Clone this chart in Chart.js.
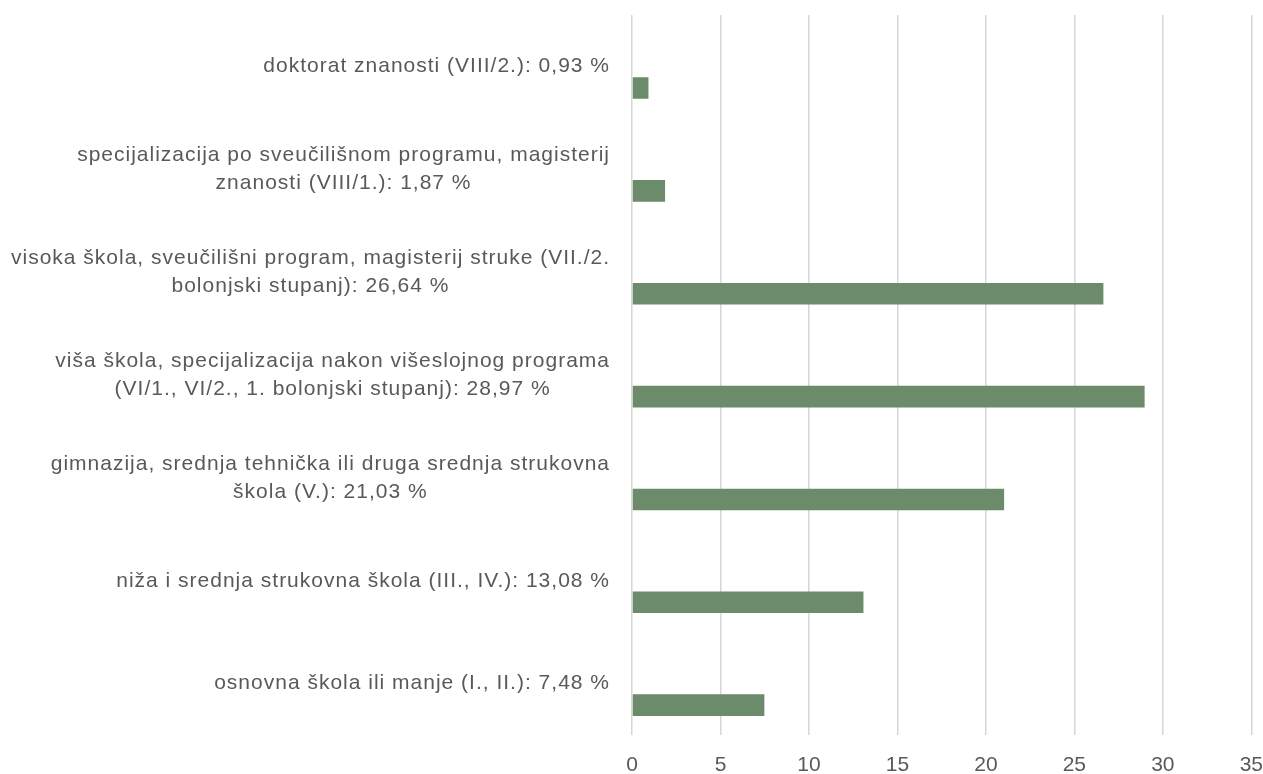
<!DOCTYPE html>
<html>
<head>
<meta charset="utf-8">
<script src="https://cdn.jsdelivr.net/npm/chart.js@4/dist/chart.umd.min.js"></script>
<style>
  html, body { margin: 0; padding: 0; background: #ffffff; }
  #wrap { width: 1263px; height: 774px; position: relative; }
</style>
</head>
<body>
<div id="wrap"><canvas id="c"></canvas></div>
<script>
// ---- data ----
const categories = [
  ["doktorat znanosti (VIII/2.): 0,93 %"],
  ["specijalizacija po sveučilišnom programu, magisterij", "znanosti (VIII/1.): 1,87 %"],
  ["visoka škola, sveučilišni program, magisterij struke (VII./2.", "bolonjski stupanj): 26,64 %"],
  ["viša škola, specijalizacija nakon višeslojnog programa", "(VI/1., VI/2., 1. bolonjski stupanj): 28,97 %"],
  ["gimnazija, srednja tehnička ili druga srednja strukovna", "škola (V.): 21,03 %"],
  ["niža i srednja strukovna škola (III., IV.): 13,08 %"],
  ["osnovna škola ili manje (I., II.): 7,48 %"]
];
const emptySeries = [null, null, null, null, null, null, null];
const shareValues = [0.93, 1.87, 26.64, 28.97, 21.03, 13.08, 7.48];
const xTickValues = [0, 5, 10, 15, 20, 25, 30, 35];

const TEXT_COLOR = '#595959';
const LABEL_FONT = '21px "Liberation Sans", Arial, sans-serif';

// Draws the category labels: block right-aligned, lines centered within block
const categoryLabels = {
  id: 'categoryLabels',
  afterDraw(chart) {
    const ctx = chart.ctx;
    const yScale = chart.scales.y;
    const right = chart.chartArea.left - 22;
    const lineH = 28;
    ctx.save();
    ctx.font = LABEL_FONT;
    ctx.fillStyle = TEXT_COLOR;
    try { ctx.letterSpacing = '1px'; } catch (e) {}
    ctx.textBaseline = 'middle';
    ctx.textAlign = 'center';
    categories.forEach((lines, i) => {
      const y = yScale.getPixelForTick(i);
      const w = Math.max(...lines.map(l => ctx.measureText(l).width));
      const cx = right - w / 2;
      lines.forEach((l, j) => {
        ctx.fillText(l, cx, y + (j - (lines.length - 1) / 2) * lineH);
      });
    });
    ctx.restore();
  }
};

new Chart(document.getElementById('c'), {
  type: 'bar',
  data: {
    labels: categories,
    datasets: [
      { label: 'prazno', data: emptySeries, backgroundColor: 'rgba(0,0,0,0)' },
      { label: 'Udio', data: shareValues, backgroundColor: '#6b8b6b', borderWidth: 0 }
    ]
  },
  options: {
    indexAxis: 'y',
    responsive: true,
    maintainAspectRatio: false,
    animation: false,
    devicePixelRatio: 1,
    categoryPercentage: 0.84,
    barPercentage: 0.5,
    layout: { padding: { top: 15, right: 4, left: 0, bottom: 0 } },
    plugins: { legend: { display: false }, tooltip: { enabled: false } },
    scales: {
      x: {
        min: 0, max: 35,
        afterBuildTicks(s) { s.ticks = xTickValues.map(v => ({ value: v })); },
        afterFit(s) { s.height = 39; },
        grid: { color: '#d6d6d6', lineWidth: 1.5, drawTicks: true, tickLength: 18, tickColor: 'rgba(0,0,0,0)' },
        border: { display: false },
        ticks: { color: TEXT_COLOR, padding: 0, font: { family: '"Liberation Sans", Arial, sans-serif', size: 21 } }
      },
      y: {
        afterFit(s) { s.width = 632; },
        grid: { display: false, drawTicks: false },
        border: { display: false },
        ticks: { display: false }
      }
    }
  },
  plugins: [categoryLabels]
});
</script>
</body>
</html>
